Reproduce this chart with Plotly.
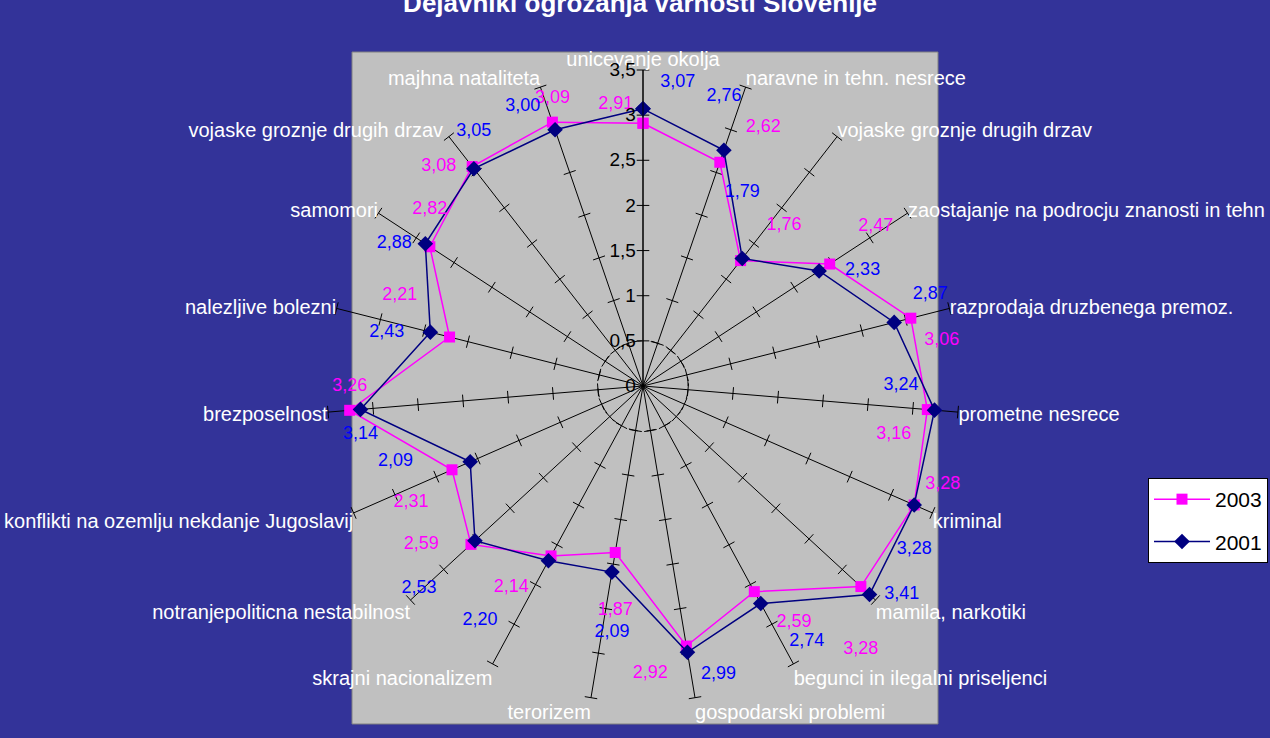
import plotly.graph_objects as go

categories = [
    "unicevanje okolja",
    "naravne in tehn. nesrece",
    "vojaske groznje drugih drzav",
    "zaostajanje na podrocju znanosti in tehn",
    "razprodaja druzbenega premoz.",
    "prometne nesrece",
    "kriminal",
    "mamila, narkotiki",
    "begunci in ilegalni priseljenci",
    "gospodarski problemi",
    "terorizem",
    "skrajni nacionalizem",
    "notranjepoliticna nestabilnost",
    "konflikti na ozemlju nekdanje Jugoslavij",
    "brezposelnost",
    "nalezljive bolezni",
    "samomori",
    "vojaske groznje drugih drzav ",
    "majhna nataliteta",
]
values_2003 = [2.91, 2.62, 1.76, 2.47, 3.06, 3.16, 3.28, 3.28, 2.59, 2.92,
               1.87, 2.14, 2.59, 2.31, 3.26, 2.21, 2.82, 3.08, 3.09]
values_2001 = [3.07, 2.76, 1.79, 2.33, 2.87, 3.24, 3.28, 3.41, 2.74, 2.99,
               2.09, 2.20, 2.53, 2.09, 3.14, 2.43, 2.88, 3.05, 3.00]
radial_ticks = [0, 0.5, 1, 1.5, 2, 2.5, 3, 3.5]

# label placement (style only)
pos_2003 = ["top left", "top right", "top right", "top right", "bottom right",
            "bottom left", "top right", "bottom center", "bottom right", "bottom left",
            "bottom center", "bottom left", "middle left", "bottom left", "top center",
            "top left", "top center", "middle left", "top center"]
gap_2003 = [14, 40, 40, 44, 20, 24, 16, 84, 34, 28,
            76, 34, 50, 36, 22, 50, 44, 24, 22]
pos_2001 = ["top right", "top center", "top center", "middle right", "top right",
            "top left", "bottom center", "middle right", "bottom right", "bottom right",
            "bottom center", "bottom left", "bottom left", "middle left", "bottom center",
            "middle left", "middle left", "top center", "top left"]
gap_2001 = [26, 70, 90, 40, 28, 24, 56, 22, 44, 20,
            80, 80, 60, 90, 24, 40, 20, 44, 22]

N = len(categories)
FONT = "Liberation Sans, Arial, sans-serif"


def fmt(v):
    return f"{v:.2f}".replace(".", ",")


def closed(lst):
    return list(lst) + [lst[0]]


fig = go.Figure()

# tick crosses on every spoke
tick_r, tick_t, tick_a = [], [], []
for i, c in enumerate(categories):
    for r in radial_ticks[1:]:
        tick_r.append(r)
        tick_t.append(c)
        tick_a.append(i * 360.0 / N)
fig.add_trace(go.Scatterpolar(
    r=tick_r, theta=tick_t, mode="markers", showlegend=False, hoverinfo="skip",
    marker=dict(symbol="line-ew", size=9, angle=tick_a,
                line=dict(color="black", width=1)),
))

series = [
    ("2003", values_2003, "#FF00FF", "#FF00FF", "square", pos_2003, gap_2003),
    ("2001", values_2001, "#000080", "#0000FF", "diamond", pos_2001, gap_2001),
]
for name, vals, lc, tc, sym, pos, gap in series:
    fig.add_trace(go.Scatterpolar(
        r=closed(vals), theta=closed(categories), name=name, legendgroup=name,
        mode="lines+markers",
        line=dict(color=lc, width=1.5),
        marker=dict(symbol=sym, size=11 if sym == "square" else 12, color=lc),
    ))
for name, vals, lc, tc, sym, pos, gap in series:
    fig.add_trace(go.Scatterpolar(
        r=vals, theta=categories, mode="markers+text", showlegend=False,
        hoverinfo="skip", text=[fmt(v) for v in vals], textposition=pos,
        textfont=dict(color=tc, size=18, family=FONT),
        marker=dict(size=gap, opacity=0),
    ))

# helper trace for the dashed 0.5 gridline subplot
fig.add_trace(go.Scatterpolar(r=[0], theta=[categories[0]], subplot="polar2",
                              mode="markers", marker=dict(size=1, opacity=0),
                              showlegend=False, hoverinfo="skip"))

W, H = 1270, 738
cx, cy, R = 643, 386, 316
dom_x = [(cx - R) / W, (cx + R) / W]
dom_y = [(H - cy - R) / H, (H - cy + R) / H]

fig.update_layout(
    width=W, height=H,
    margin=dict(l=0, r=0, t=0, b=0),
    paper_bgcolor="#333399",
    separators=",.",
    font=dict(family=FONT, color="white", size=16),
    title=dict(text="<b>Dejavniki ogrozanja varnosti Slovenije</b>",
               x=0.504, xanchor="center", y=0.996, yanchor="middle",
               font=dict(size=26, color="white", family=FONT)),
    polar=dict(
        domain=dict(x=dom_x, y=dom_y),
        bgcolor="rgba(0,0,0,0)",
        radialaxis=dict(range=[0, 3.5], tickvals=radial_ticks, angle=90,
                        tickangle=90,
                        showgrid=False, showline=True, linecolor="black",
                        ticks="", side="counterclockwise",
                        tickfont=dict(color="black", size=19, family=FONT)),
        angularaxis=dict(direction="clockwise", rotation=90,
                         categoryorder="array", categoryarray=categories,
                         showgrid=True, gridcolor="black", gridwidth=1,
                         showline=False, ticks="",
                         tickfont=dict(color="white", size=20, family=FONT)),
    ),
    polar2=dict(
        domain=dict(x=dom_x, y=dom_y),
        bgcolor="rgba(0,0,0,0)",
        radialaxis=dict(range=[0, 3.5], tickvals=[0.5], showgrid=True,
                        griddash="dash", gridcolor="black", gridwidth=1,
                        showticklabels=False, showline=False, ticks=""),
        angularaxis=dict(showgrid=False, showline=False, showticklabels=False,
                         ticks=""),
    ),
    shapes=[dict(type="rect", xref="paper", yref="paper",
                 x0=352 / W, x1=938 / W, y0=1 - 724 / H, y1=1 - 52 / H,
                 fillcolor="#C0C0C0", line=dict(color="#808080", width=1),
                 layer="below")],
    legend=dict(x=1148 / W, y=1 - 478 / H, xanchor="left", yanchor="top",
                bgcolor="white", bordercolor="black", borderwidth=1,
                font=dict(color="black", size=21, family=FONT),
                tracegroupgap=12, itemwidth=56),
    showlegend=True,
)

fig.write_html("out.html", config={"displayModeBar": False},
               post_script="document.body.style.margin='0';"
                           "document.body.style.overflow='hidden';")
